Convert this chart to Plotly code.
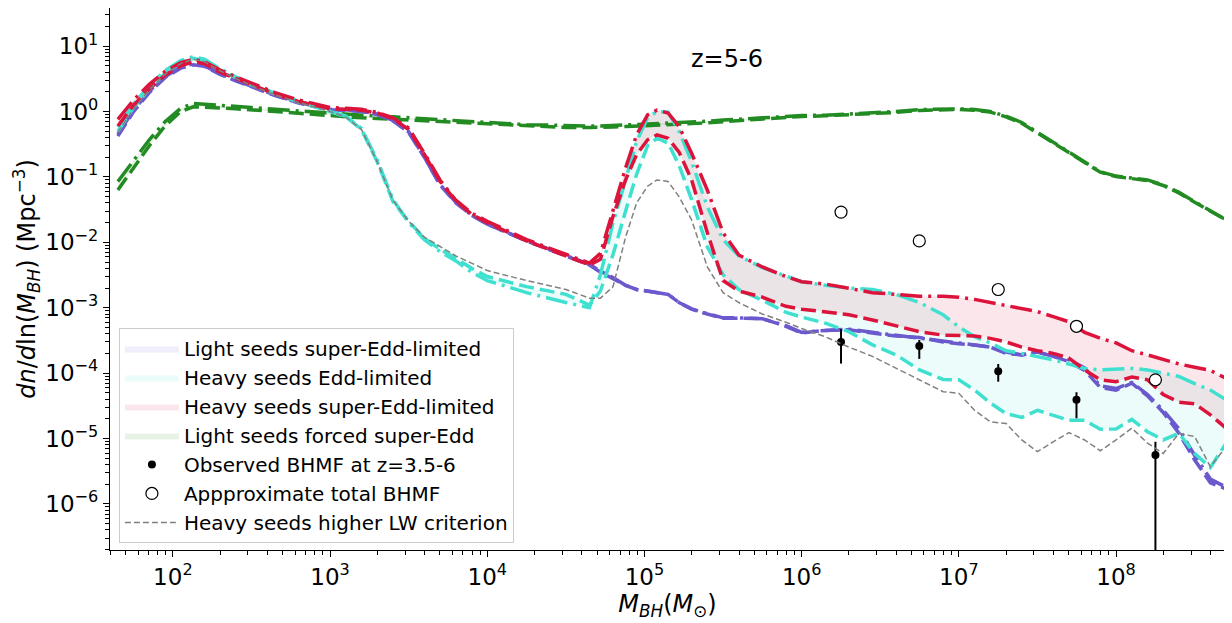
import plotly.graph_objects as go

# log10 of black hole mass on a shared grid for the model curves
log_mass = [1.65, 1.75, 1.85, 1.95, 2.05, 2.13, 2.2, 2.3, 2.4, 2.5,
            2.65, 2.8, 3.0, 3.1, 3.2, 3.3, 3.4, 3.5, 3.6, 3.7,
            3.8, 3.9, 4.0, 4.25, 4.5, 4.65, 4.72, 4.8, 4.88, 4.95,
            5.02, 5.08, 5.15, 5.22, 5.3, 5.4, 5.5, 5.6, 5.75, 5.9,
            6.0, 6.15, 6.3, 6.45, 6.6, 6.75, 6.9, 7.0, 7.1, 7.2,
            7.3, 7.4, 7.5, 7.6, 7.7, 7.8, 7.9, 8.0, 8.1, 8.2,
            8.3, 8.4, 8.5, 8.6, 8.7]

# light seeds super-Edd-limited (dashed / dash-dot)
light_sel_d = [0.42, 1.0, 1.95, 3.3, 4.6, 5.2, 4.9, 3.7, 2.95, 2.4,
               1.75, 1.35, 1.06, 1.05, 1.0, 0.9, 0.72, 0.48, 0.2, 0.075,
               0.04, 0.026, 0.019, 0.0105, 0.0063, 0.0045, 0.0035, 0.0028, 0.0022, 0.0019,
               0.0018, 0.0017, 0.0016, 0.0012, 0.00095, 0.0008, 0.00069, 0.00069, 0.00068, 0.00052,
               0.00041, 0.00045, 0.00046, 0.00041, 0.00037, 0.00035, 0.0003, 0.00028, 0.00027, 0.00025,
               0.0002, 0.00019, 0.00021, 0.00018, 0.00015, 0.00011, 0.00006, 0.000055, 0.00007, 0.000045,
               0.000025, 0.000012, 0.0000047, 0.0000021, 0.0000017]
light_sel_dd = [0.45, 1.05, 2.05, 3.4, 4.8, 5.4, 5.0, 3.8, 3.0, 2.45,
                1.78, 1.37, 1.08, 1.06, 1.01, 0.91, 0.73, 0.49, 0.2, 0.076,
                0.041, 0.026, 0.019, 0.0106, 0.0064, 0.0046, 0.0036, 0.0029, 0.0022, 0.0019,
                0.0018, 0.0017, 0.0016, 0.0012, 0.00096, 0.00081, 0.0007, 0.0007, 0.00068, 0.00053,
                0.00042, 0.00045, 0.00047, 0.00042, 0.00038, 0.00035, 0.00031, 0.00029, 0.00027, 0.00025,
                0.00021, 0.00019, 0.00021, 0.00018, 0.00016, 0.00012, 0.000064, 0.000058, 0.000072, 0.000047,
                0.000027, 0.000014, 0.0000055, 0.0000024, 0.0000018]

# heavy seeds Edd-limited
heavy_edd_d = [0.5, 1.15, 2.2, 3.8, 5.6, 6.5, 6.0, 4.3, 3.3, 2.55,
               1.85, 1.4, 1.0, 0.83, 0.53, 0.17, 0.042, 0.021, 0.0115, 0.0078,
               0.0057, 0.004, 0.003, 0.0021, 0.0016, 0.0011, 0.0018, 0.0065, 0.03, 0.11,
               0.3, 0.39, 0.33, 0.15, 0.045, 0.0085, 0.0032, 0.0019, 0.0013, 0.00085,
               0.00072, 0.00058, 0.00043, 0.00027, 0.00019, 0.000112, 0.00008, 0.000079, 0.000055, 0.000035,
               0.000024, 0.000021, 0.000027, 0.000023, 0.000019, 0.000019, 0.0000138, 0.000014, 0.0000196, 0.0000127,
               0.0000095, 0.000012, 0.0000059, 0.0000036, 0.0000085]
heavy_edd_dd = [0.58, 1.3, 2.5, 4.2, 6.0, 6.9, 6.3, 4.5, 3.4, 2.65,
                1.9, 1.45, 1.02, 0.85, 0.55, 0.18, 0.045, 0.02, 0.011, 0.0072,
                0.0052, 0.0035, 0.0026, 0.0017, 0.0012, 0.001, 0.0032, 0.02, 0.09, 0.35,
                0.8, 1.0, 0.98, 0.5, 0.17, 0.035, 0.011, 0.0062, 0.0041, 0.003,
                0.0025, 0.0022, 0.002, 0.0019, 0.0016, 0.0012, 0.00078, 0.00051, 0.00036, 0.00029,
                0.00022, 0.0002, 0.00018, 0.00016, 0.000138, 0.000118, 0.000112, 0.000114, 0.000118, 0.000112,
                0.0001, 0.000089, 0.000069, 0.000055, 0.000039]

# heavy seeds super-Edd-limited
heavy_sel_d = [0.6, 1.25, 2.2, 3.6, 5.0, 5.8, 5.4, 4.0, 3.2, 2.6,
               1.85, 1.42, 1.1, 1.08, 1.05, 0.95, 0.78, 0.53, 0.22, 0.085,
               0.043, 0.027, 0.02, 0.0105, 0.0063, 0.0045, 0.0055, 0.025, 0.09, 0.22,
               0.37, 0.44, 0.39, 0.24, 0.09, 0.014, 0.0026, 0.0018, 0.00145, 0.00105,
               0.00095, 0.00087, 0.00078, 0.00065, 0.00053, 0.00043, 0.00038, 0.00037, 0.00037, 0.00034,
               0.0003, 0.00025, 0.00022, 0.0002, 0.00017, 0.000112, 0.000079, 0.000074, 0.000087, 0.000079,
               0.000047, 0.000036, 0.000034, 0.000023, 0.0000144]
heavy_sel_dd = [0.76, 1.5, 2.6, 4.1, 5.6, 6.3, 5.8, 4.3, 3.4, 2.75,
                1.95, 1.5, 1.15, 1.12, 1.08, 0.97, 0.8, 0.56, 0.23, 0.089,
                0.044, 0.028, 0.021, 0.011, 0.0066, 0.0048, 0.0068, 0.031, 0.138, 0.44,
                0.89, 1.05, 0.95, 0.59, 0.23, 0.063, 0.014, 0.0064, 0.0042, 0.003,
                0.0025, 0.0023, 0.002, 0.0017, 0.0016, 0.0015, 0.0015, 0.00145, 0.00134, 0.0012,
                0.00107, 0.00098, 0.00087, 0.00073, 0.00061, 0.00042, 0.00034, 0.00029, 0.00022, 0.00019,
                0.00016, 0.000138, 0.000123, 0.00011, 0.000083]

# light seeds forced super-Edd
light_fse_d = [0.063, 0.14, 0.3, 0.6, 1.0, 1.18, 1.17, 1.13, 1.1, 1.07,
               1.0, 0.94, 0.86, 0.83, 0.8, 0.78, 0.76, 0.74, 0.72, 0.7,
               0.68, 0.66, 0.64, 0.6, 0.57, 0.57, 0.57, 0.58, 0.59, 0.6,
               0.6, 0.61, 0.62, 0.63, 0.65, 0.67, 0.7, 0.73, 0.77, 0.81,
               0.84, 0.86, 0.89, 0.92, 0.97, 1.04, 1.08, 1.08, 1.05, 0.98,
               0.83, 0.66, 0.47, 0.33, 0.235, 0.167, 0.118, 0.101, 0.095, 0.088,
               0.074, 0.057, 0.041, 0.03, 0.022]
light_fse_dd = [0.085, 0.18, 0.37, 0.7, 1.12, 1.33, 1.3, 1.25, 1.2, 1.15,
                1.08, 1.02, 0.93, 0.9, 0.88, 0.85, 0.83, 0.8, 0.77, 0.75,
                0.72, 0.7, 0.68, 0.63, 0.6, 0.6, 0.6, 0.61, 0.62, 0.63,
                0.64, 0.65, 0.66, 0.67, 0.69, 0.71, 0.74, 0.77, 0.8, 0.84,
                0.87, 0.88, 0.91, 0.94, 1.0, 1.07, 1.1, 1.1, 1.07, 1.0,
                0.85, 0.68, 0.48, 0.34, 0.24, 0.17, 0.12, 0.103, 0.097, 0.09,
                0.075, 0.058, 0.042, 0.03, 0.022]

# heavy seeds, higher LW criterion
heavy_lw = [0.48, 1.1, 2.15, 3.7, 5.4, 6.3, 5.8, 4.2, 3.2, 2.5,
            1.8, 1.38, 1.0, 0.82, 0.53, 0.17, 0.044, 0.021, 0.012, 0.0085,
            0.0062, 0.0048, 0.0037, 0.0026, 0.0019, 0.0014, 0.0014, 0.0021, 0.012, 0.04,
            0.072, 0.09, 0.085, 0.05, 0.022, 0.0042, 0.0017, 0.0012, 0.0008, 0.0006,
            0.00048, 0.00036, 0.00025, 0.00018, 0.000118, 0.000079, 0.000052, 0.000049, 0.000027, 0.000018,
            0.000017, 0.0000095, 0.0000063, 0.0000089, 0.0000123, 0.0000095, 0.0000065, 0.0000095, 0.0000144, 0.0000085,
            0.0000059, 0.000012, 0.0000107, 0.0000037, 0.0000075]

# observations
obs_mass = [1.78e6, 5.6e6, 1.78e7, 5.6e7, 1.78e8]
obs_phi = [3.0e-4, 2.6e-4, 1.07e-4, 3.9e-5, 5.6e-6]
obs_upper = [4.7e-4, 3.2e-4, 1.38e-4, 5.1e-5, 8.9e-6]
obs_lower = [1.4e-4, 1.65e-4, 7.4e-5, 2.04e-5, 1e-9]

tot_mass = [1.78e6, 5.6e6, 1.78e7, 5.6e7, 1.78e8]
tot_phi = [0.029, 0.0105, 0.0019, 0.00052, 0.000079]

mass = [10 ** v for v in log_mass]

FONT = "DejaVu Sans"
DASH = "15px,6px"
DASHDOT = "22px,6px,3px,6px"

fig = go.Figure()

groups = [
    ("Light seeds super-Edd-limited", light_sel_d, light_sel_dd, "slateblue", "rgba(106,90,205,0.1)"),
    ("Heavy seeds Edd-limited", heavy_edd_d, heavy_edd_dd, "turquoise", "rgba(64,224,208,0.1)"),
    ("Heavy seeds super-Edd-limited", heavy_sel_d, heavy_sel_dd, "crimson", "rgba(220,20,60,0.1)"),
    ("Light seeds forced super-Edd", light_fse_d, light_fse_dd, "forestgreen", "rgba(34,139,34,0.1)"),
]

# shaded bands (legend patches)
for rank, (name, lo, hi, col, fcol) in enumerate(groups):
    fig.add_trace(go.Scatter(x=mass, y=lo, mode="lines", line=dict(width=0),
                             showlegend=False, hoverinfo="skip"))
    fig.add_trace(go.Scatter(x=mass, y=hi, mode="lines", line=dict(width=0),
                             fill="tonexty", fillcolor=fcol, name=name,
                             legendgroup=name, legendrank=rank + 1))

# model lines
for name, lo, hi, col, fcol in [groups[3], groups[0], groups[1], groups[2]]:
    fig.add_trace(go.Scatter(x=mass, y=lo, mode="lines", showlegend=False,
                             line=dict(color=col, width=3.5, dash=DASH)))
    fig.add_trace(go.Scatter(x=mass, y=hi, mode="lines", showlegend=False,
                             line=dict(color=col, width=3.5, dash=DASHDOT)))

fig.add_trace(go.Scatter(
    x=obs_mass, y=obs_phi, mode="markers", name="Observed BHMF at z=3.5-6",
    legendgroup="obs", legendrank=5,
    marker=dict(color="black", size=8),
    error_y=dict(type="data", symmetric=False,
                 array=[u - p for u, p in zip(obs_upper, obs_phi)],
                 arrayminus=[p - l for p, l in zip(obs_phi, obs_lower)],
                 color="black", thickness=2, width=0)))

fig.add_trace(go.Scatter(
    x=tot_mass, y=tot_phi, mode="markers", name="Appproximate total BHMF",
    legendgroup="tot", legendrank=6,
    marker=dict(color="white", size=12, line=dict(color="black", width=1.2))))

fig.add_trace(go.Scatter(
    x=mass, y=heavy_lw, mode="lines", name="Heavy seeds higher LW criterion",
    legendgroup="lw", legendrank=7,
    line=dict(color="grey", width=1.5, dash="6px,3px")))

sup = {-6: "−6", -5: "−5", -4: "−4", -3: "−3", -2: "−2", -1: "−1", 0: "0", 1: "1"}
ytv = [10.0 ** k for k in range(-6, 2)]
ytt = ["10<sup>%s</sup>" % sup[k] for k in range(-6, 2)]
xtv = [10.0 ** k for k in range(2, 9)]
xtt = ["10<sup>%d</sup>" % k for k in range(2, 9)]
minor_x = [m * 10.0 ** k for k in range(1, 9) for m in range(2, 10)]
minor_y = [m * 10.0 ** k for k in range(-7, 2) for m in range(2, 10)]

axis_common = dict(type="log", showgrid=False, zeroline=False, showline=True,
                   linecolor="black", linewidth=1.2, mirror=True,
                   ticks="outside", ticklen=6, tickwidth=1.2, tickcolor="black",
                   tickfont=dict(family=FONT, size=23, color="black"))

fig.update_xaxes(**axis_common, range=[1.6, 8.693], tickmode="array",
                 tickvals=xtv, ticktext=xtt,
                 minor=dict(tickmode="array", tickvals=minor_x, ticks="outside",
                            ticklen=3.5, tickcolor="black", tickwidth=1),
                 title=dict(text="<i>M</i><sub><i>BH</i></sub>(<i>M</i><sub>⊙</sub>)",
                            font=dict(family=FONT, size=24, color="black"), standoff=2))
fig.update_yaxes(**axis_common, range=[-6.705, 1.583], tickmode="array",
                 tickvals=ytv, ticktext=ytt,
                 minor=dict(tickmode="array", tickvals=minor_y, ticks="outside",
                            ticklen=3.5, tickcolor="black", tickwidth=1),
                 title=dict(text="<i>dn</i>/<i>d</i>ln(<i>M</i><sub><i>BH</i></sub>) (Mpc<sup>−3</sup>)",
                            font=dict(family=FONT, size=24, color="black"), standoff=2))

fig.add_annotation(x=0.553, y=0.906, xref="paper", yref="paper", text="z=5-6",
                   xanchor="center", yanchor="middle",
                   showarrow=False, font=dict(family=FONT, size=24, color="black"))

# the page adds an 8px body margin, so the figure is sized to fit the window
fig.update_layout(
    width=1224, height=615,
    margin=dict(l=102, r=7, t=0, b=73),
    plot_bgcolor="white", paper_bgcolor="white",
    font=dict(family=FONT, color="black"),
    legend=dict(x=0.008, y=0.013, xanchor="left", yanchor="bottom",
                bgcolor="rgba(255,255,255,0.8)", bordercolor="#cccccc", borderwidth=1,
                font=dict(family=FONT, size=20, color="black"),
                tracegroupgap=0, itemwidth=54),
)

fig.write_html("out.html")
